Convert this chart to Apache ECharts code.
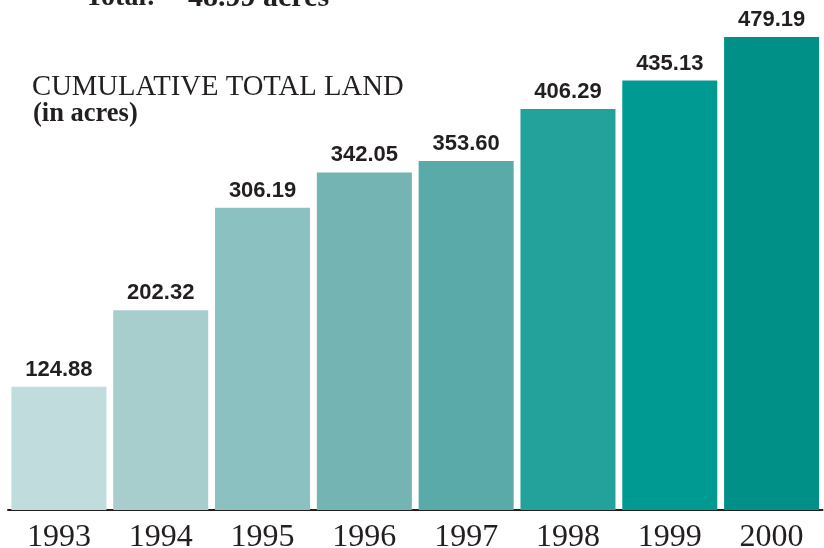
<!DOCTYPE html>
<html>
<head>
<meta charset="utf-8">
<script src="https://cdn.jsdelivr.net/npm/echarts@6/dist/echarts.min.js"></script>
<style>
html,body{margin:0;padding:0;background:#fff;}
#chart{width:824px;height:548px;}
</style>
</head>
<body>
<div id="chart"></div>
<script>
var years = ['1993','1994','1995','1996','1997','1998','1999','2000'];
var acres = [124.88, 202.32, 306.19, 342.05, 353.60, 406.29, 435.13, 479.19];
var barColors = ['#c0dcdc','#a7cdcc','#8bc1c0','#74b4b3','#59aaa8','#23a19b','#009a93','#009088'];

var chart = echarts.init(document.getElementById('chart'), null, {renderer:'canvas'});
var textColor = '#231f20';
chart.setOption({
  animation: false,
  backgroundColor: '#ffffff',
  grid: {left: 8, right: 1.5, top: 16.5, bottom: 38, containLabel: false, outerBoundsMode: 'none'},
  xAxis: {
    type: 'category',
    data: years,
    axisLine: {show: true, lineStyle: {color: textColor, width: 2}},
    axisTick: {show: false},
    axisLabel: {color: textColor, fontFamily: 'Liberation Serif', fontSize: 32, margin: 12}
  },
  yAxis: {
    type: 'value',
    min: 0, max: 500,
    show: false,
    splitLine: {show: false}
  },
  series: [{
    type: 'bar',
    barWidth: 95,
    data: acres.map(function(v, i){ return {value: v, itemStyle: {color: barColors[i]}}; }),
    label: {
      show: true,
      position: 'top',
      distance: 6,
      formatter: function(p){ return p.value.toFixed(2); },
      color: textColor,
      fontFamily: 'Liberation Sans',
      fontWeight: 'bold',
      fontSize: 22
    }
  }],
  graphic: [
    {type: 'text', left: 85, top: -16, style: {text: 'Total:', font: 'bold 28px "Liberation Serif"', fill: textColor}},
    {type: 'text', left: 188, top: -17, style: {text: '48.99 acres', font: 'bold 30px "Liberation Serif"', fill: textColor}},
    {type: 'text', left: 32, top: 73, style: {text: 'CUMULATIVE TOTAL LAND', font: '28.7px "Liberation Serif"', fill: textColor}},
    {type: 'text', left: 33, top: 101, style: {text: '(in acres)', font: 'bold 26.5px "Liberation Serif"', fill: textColor}}
  ]
});
</script>
</body>
</html>
